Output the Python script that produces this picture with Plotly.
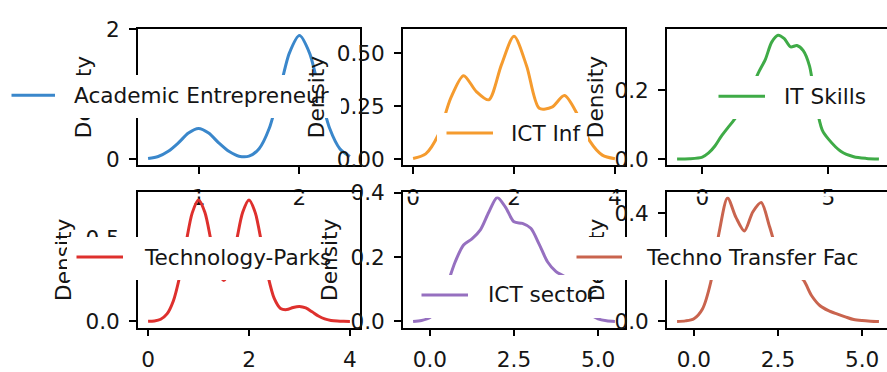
import plotly.graph_objects as go

# ---------------- data ----------------
series_names = ["Academic Entrepreneur", "ICT Inf", "IT Skills",
                "Technology-Parks", "ICT sector", "Techno Transfer Fac"]

ae_x = [0.5, 0.6, 0.7, 0.8, 0.9, 1.0, 1.1, 1.2, 1.3, 1.4, 1.5, 1.6, 1.7, 1.8,
        1.9, 2.0, 2.1, 2.2, 2.3, 2.4, 2.5]
ae_y = [0.01, 0.04, 0.12, 0.25, 0.40, 0.47, 0.40, 0.25, 0.12, 0.045, 0.045,
        0.16, 0.47, 1.03, 1.63, 1.90, 1.63, 1.03, 0.47, 0.16, 0.04]

ict_inf_x = [0.0, 0.25, 0.5, 0.75, 1.0, 1.25, 1.5, 1.75, 2.0, 2.25, 2.5, 2.75,
             3.0, 3.25, 3.5, 3.75, 4.0]
ict_inf_y = [0.003, 0.025, 0.115, 0.29, 0.394, 0.32, 0.28, 0.445, 0.58, 0.44,
             0.24, 0.245, 0.30, 0.214, 0.086, 0.019, 0.002]

it_x = [-1.0, -0.5, 0.0, 0.25, 0.5, 0.75, 1.0, 1.25, 1.5, 1.75, 2.0, 2.25, 2.5,
        2.75, 3.0, 3.25, 3.5, 3.75, 4.0, 4.25, 4.5, 4.75, 5.0, 5.5, 6.0, 6.5, 7.0]
it_y = [0.0, 0.001, 0.006, 0.018, 0.038, 0.066, 0.09, 0.113, 0.14, 0.175, 0.215,
        0.255, 0.29, 0.34, 0.36, 0.35, 0.326, 0.33, 0.315, 0.27, 0.16, 0.085,
        0.058, 0.022, 0.007, 0.002, 0.0]

tp_x = [0.0, 0.125, 0.25, 0.375, 0.5, 0.625, 0.75, 0.875, 1.0, 1.125, 1.25,
        1.375, 1.5, 1.625, 1.75, 1.875, 2.0, 2.125, 2.25, 2.375, 2.5, 2.625,
        2.75, 2.875, 3.0, 3.125, 3.25, 3.375, 3.5, 3.625, 3.75, 3.875, 4.0]
tp_y = [0.001, 0.003, 0.013, 0.045, 0.123, 0.269, 0.468, 0.653, 0.73, 0.656,
        0.481, 0.314, 0.246, 0.314, 0.481, 0.656, 0.73, 0.653, 0.47, 0.275,
        0.138, 0.078, 0.071, 0.084, 0.09, 0.081, 0.058, 0.033, 0.015, 0.006,
        0.002, 0.0004, 0.0]

ict_sec_x = [-0.5, -0.25, 0.0, 0.25, 0.5, 0.75, 1.0, 1.25, 1.5, 1.75, 2.0, 2.25,
             2.5, 2.75, 3.0, 3.25, 3.5, 3.75, 4.0, 4.25, 4.5, 4.75, 5.0, 5.25, 5.5]
ict_sec_y = [0.0, 0.003, 0.012, 0.045, 0.11, 0.185, 0.238, 0.257, 0.285, 0.34,
             0.386, 0.355, 0.31, 0.305, 0.29, 0.24, 0.185, 0.155, 0.14, 0.11,
             0.06, 0.025, 0.008, 0.002, 0.0]

ttf_x = [-0.5, -0.25, 0.0, 0.25, 0.5, 0.75, 1.0, 1.25, 1.5, 1.75, 2.0, 2.25,
         2.5, 2.75, 3.0, 3.25, 3.5, 3.75, 4.0, 4.25, 4.5, 4.75, 5.0, 5.25, 5.5]
ttf_y = [0.0, 0.002, 0.01, 0.045, 0.145, 0.33, 0.457, 0.385, 0.335, 0.405, 0.44,
         0.35, 0.25, 0.2, 0.175, 0.154, 0.095, 0.058, 0.04, 0.028, 0.017, 0.007,
         0.003, 0.001, 0.0]

xs = [ae_x, ict_inf_x, it_x, tp_x, ict_sec_x, ttf_x]
ys = [ae_y, ict_inf_y, it_y, tp_y, ict_sec_y, ttf_y]

x_tickvals = [[1, 2], [0, 2, 4], [0, 5], [0, 2, 4], [0, 2.5, 5], [0, 2.5, 5]]
x_ticktext = [["1", "2"], ["0", "2", "4"], ["0", "5"], ["0", "2", "4"],
              ["0.0", "2.5", "5.0"], ["0.0", "2.5", "5.0"]]
y_tickvals = [[0, 2], [0, 0.25, 0.5], [0, 0.2], [0, 0.5], [0, 0.2, 0.4],
              [0, 0.2, 0.4]]
y_ticktext = [["0", "2"], ["0.00", "0.25", "0.50"], ["0.0", "0.2"],
              ["0.0", "0.5"], ["0.0", "0.2", "0.4"], ["0.0", "0.2", "0.4"]]
y_title = "Density"

# ---------------- layout / style ----------------
W, H = 887, 372
colors = ["#3a87cb", "#f59b2e", "#3fab47", "#de302d", "#9670c0", "#c9644e"]
FONT = "DejaVu Sans"
FS = 21.6
TXT = "#151515"

# pixel geometry for each panel: left, right, top, bottom
geo = [(138, 360, 18, 162), (403, 625, 18, 162), (667, 887, 18, 162),
       (138, 360, 190.5, 333.5), (403, 625, 190.5, 333.5), (667, 887, 190.5, 333.5)]
xr = [[0.4, 2.6], [-0.2, 4.2], [-1.4, 7.32], [-0.2, 4.2], [-0.8, 5.8], [-0.8, 5.74]]
yr = [[-0.095, 2.0], [-0.029, 0.614], [-0.018, 0.378], [-0.037, 0.777],
      [-0.019, 0.402], [-0.0228, 0.478]]
ylab_x = [83, 316, 595, 64, 330, 597]
# legend: line start, line end, line y, text x, box left, box right
leg = [(10, 55, 88, 73, 1, 341), (445, 493, 128, 510, 437, 588),
       (717, 765, 89, 783, 708, 875), (75, 123, 259, 143, 67, 347),
       (420, 468, 299, 487, 411, 606), (575, 622, 259, 645, 566, 878)]


def px(x):
    return x / W


def py(y):
    return 1 - y / H


fig = go.Figure()
layout = dict(width=W, height=H, margin=dict(l=0, r=0, t=0, b=0), autosize=False,
              paper_bgcolor="white", plot_bgcolor="white", showlegend=False,
              font=dict(family=FONT, size=FS, color=TXT))
annotations = []
shapes = []

for i in range(6):
    k = "" if i == 0 else str(i + 1)
    l, r, t, b = geo[i]
    fig.add_trace(go.Scatter(
        x=xs[i], y=ys[i], mode="lines", name=series_names[i],
        line=dict(color=colors[i], width=3.0, shape="spline", smoothing=0.8),
        xaxis="x" + k, yaxis="y" + k, hoverinfo="skip"))
    axcommon = dict(showline=True, linecolor="black", linewidth=1.8,
                    ticks="outside", ticklen=7, tickwidth=1.8, tickcolor="black",
                    showgrid=False, zeroline=False, tickmode="array",
                    tickfont=dict(family=FONT, size=FS, color=TXT),
                    ticklabelstandoff=5)
    layout["xaxis" + k] = dict(axcommon, domain=[px(l), px(r)], range=xr[i],
                               anchor="y" + k, mirror=True,
                               tickvals=x_tickvals[i], ticktext=x_ticktext[i])
    layout["yaxis" + k] = dict(axcommon, domain=[py(b), py(t)], range=yr[i],
                               anchor="x" + k, mirror=(i % 3 != 2),
                               tickvals=y_tickvals[i], ticktext=y_ticktext[i])

    # y axis title
    annotations.append(dict(xref="paper", yref="paper", x=px(ylab_x[i]),
                            y=py((t + b) / 2), text=y_title, textangle=-90,
                            showarrow=False, xanchor="center", yanchor="middle",
                            font=dict(family=FONT, size=FS, color=TXT)))
    ls, le, ly, tx, bl, br = leg[i]
    # legend box
    annotations.append(dict(xref="paper", yref="paper", x=px(bl), y=py(ly - 21.5),
                            xanchor="left", yanchor="top", text=" ",
                            width=br - bl, height=43, bgcolor="white",
                            borderpad=0, borderwidth=0, showarrow=False))
    # legend text
    annotations.append(dict(xref="paper", yref="paper", x=px(tx), y=py(ly),
                            xanchor="left", yanchor="middle",
                            text=series_names[i], borderpad=0, showarrow=False,
                            font=dict(family=FONT, size=FS, color=TXT)))
    # legend handle line
    annotations.append(dict(xref="paper", yref="paper", x=px(le), y=py(ly),
                            ax=-(le - ls), ay=0, text="", showarrow=True,
                            arrowhead=0, arrowwidth=3.0, arrowcolor=colors[i],
                            standoff=0, startstandoff=0))

# row-2 axes faces hide the lower part of row-1 x tick labels
for i in range(3, 6):
    l, r, t, b = geo[i]
    shapes.append(dict(type="rect", xref="paper", yref="paper", layer="above",
                       x0=px(l + 1.5), x1=px(r - 1.5 if i != 5 else r),
                       y0=py(t + 1.2), y1=py(t + 4.6),
                       fillcolor="white", line=dict(width=0)))

layout["annotations"] = annotations
layout["shapes"] = shapes
fig.update_layout(**layout)
fig.write_html("out.html")
